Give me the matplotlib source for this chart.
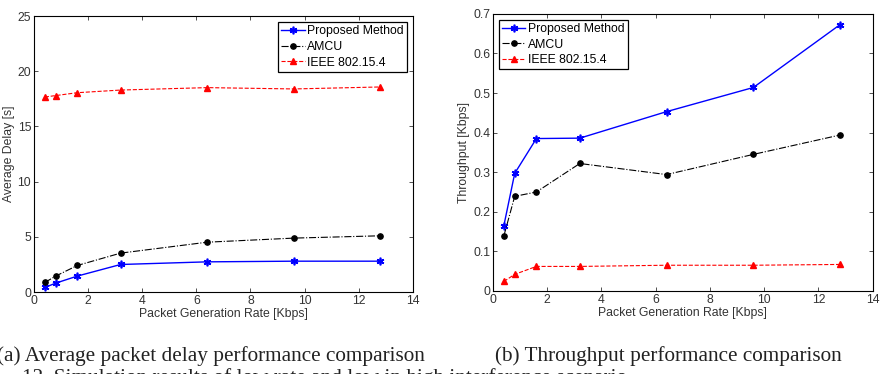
import numpy as np
import matplotlib
matplotlib.use('Agg')
import matplotlib.pyplot as plt

rate = [0.4, 0.8, 1.6, 3.2, 6.4, 9.6, 12.8]

delay_proposed = [0.42, 0.81, 1.45, 2.5, 2.74, 2.8, 2.8]
delay_amcu = [0.87, 1.45, 2.41, 3.53, 4.52, 4.89, 5.1]
delay_ieee = [17.67, 17.8, 18.06, 18.3, 18.52, 18.4, 18.58]

thr_proposed = [0.165, 0.297, 0.385, 0.386, 0.453, 0.514, 0.673]
thr_amcu = [0.139, 0.239, 0.25, 0.322, 0.294, 0.345, 0.394]
thr_ieee = [0.024, 0.042, 0.062, 0.062, 0.065, 0.065, 0.067]

labels = ['Proposed Method', 'AMCU', 'IEEE 802.15.4']
xlabel = 'Packet Generation Rate [Kbps]'

plt.rcParams['font.family'] = ['Liberation Sans', 'DejaVu Sans']
fs = 8.8

fig = plt.figure(figsize=(8.81, 3.74), dpi=100)
ax1 = fig.add_axes([0.0386, 0.219, 0.430, 0.738])
ax2 = fig.add_axes([0.5596, 0.222, 0.431, 0.741])


def draw(ax, ys, ylim, yticks, ylabel, legloc):
    p, a, e = ys
    ax.plot(rate, p, '-', color='#0000ff', marker=(6, 2, 0), markersize=5.5,
            linewidth=1.0, markeredgewidth=1.2, label=labels[0])
    ax.plot(rate, a, '-.', color='black', marker='o', markersize=3.8,
            linewidth=0.8, label=labels[1])
    ax.plot(rate, e, '--', color='red', marker='^', markersize=4.5,
            linewidth=0.8, label=labels[2])
    ax.set_xlim(0, 14)
    ax.set_ylim(*ylim)
    ax.set_xticks(range(0, 15, 2))
    ax.set_yticks(yticks)
    ax.tick_params(direction='in', top=True, right=True, labelsize=fs,
                   length=3, width=0.6, pad=2, colors='#333333')
    for s in ax.spines.values():
        s.set_linewidth(0.8)
    ax.set_xlabel(xlabel, fontsize=fs, labelpad=1, color='#333333')
    ax.set_ylabel(ylabel, fontsize=fs, labelpad=2, color='#333333')
    leg = ax.legend(loc=legloc, fontsize=fs, fancybox=False, framealpha=1,
                    edgecolor='black', borderpad=0.25, labelspacing=0.3,
                    handlelength=1.9, handletextpad=0.2, borderaxespad=0.5)
    leg.get_frame().set_linewidth(0.9)


draw(ax1, (delay_proposed, delay_amcu, delay_ieee), (0, 25), range(0, 26, 5),
     'Average Delay [s]', 'upper right')
draw(ax2, (thr_proposed, thr_amcu, thr_ieee), (0, 0.7),
     np.round(np.arange(0, 0.71, 0.1), 1), 'Throughput [Kbps]', 'upper left')
ax2.set_yticklabels(['0', '0.1', '0.2', '0.3', '0.4', '0.5', '0.6', '0.7'])

cap = dict(fontsize=15.3, family=['Liberation Serif', 'DejaVu Serif'],
           color='#222222')
fig.text(-0.003, 0.035, '(a) Average packet delay performance comparison',
         ha='left', va='baseline', **cap)
fig.text(0.562, 0.035, '(b) Throughput performance comparison',
         ha='left', va='baseline', **cap)
fig.text(0.025, -0.024,
         '12. Simulation results of low rate and low in high interference scenario',
         ha='left', va='baseline', **cap)

fig.savefig('out.png', dpi=100)
